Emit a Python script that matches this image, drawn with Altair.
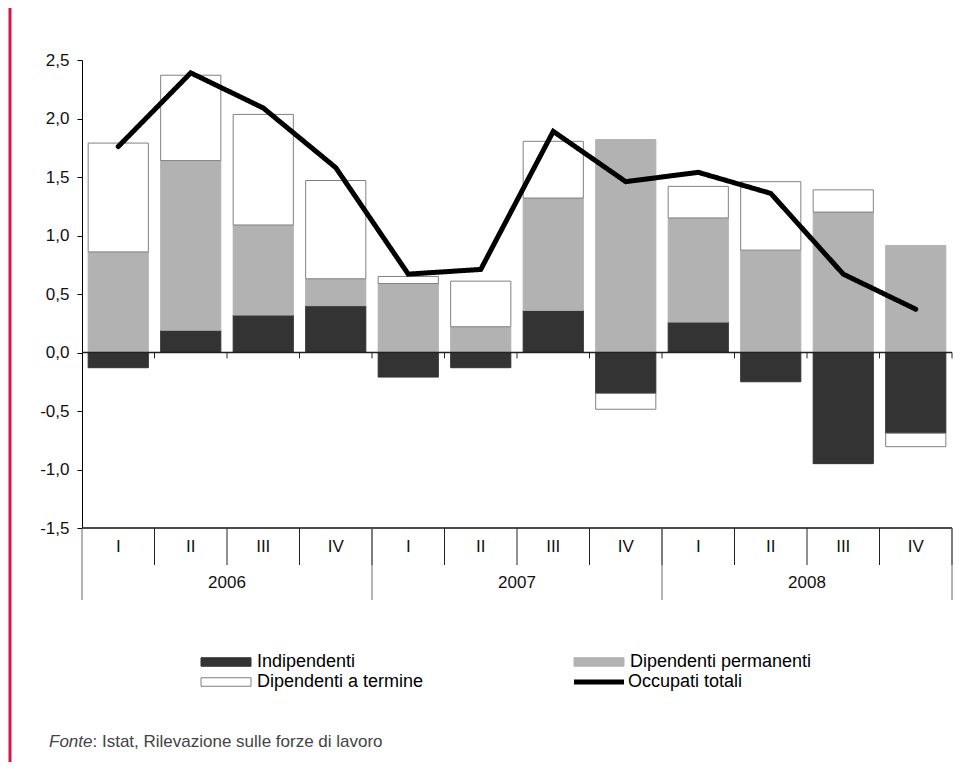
import altair as alt
import pandas as pd

# ---- data ----
anni = ["2006", "2007", "2008"]
trimestri = ["I", "II", "III", "IV"]
serie_nomi = ["Indipendenti", "Dipendenti permanenti", "Dipendenti a termine"]
serie_colori = ["#333333", "#b2b2b2", "#ffffff"]
serie_bordi = ["#333333", "#b2b2b2", "#808080"]
indipendenti = [-0.13, 0.19, 0.32, 0.40, -0.21, -0.13, 0.36, -0.35, 0.26, -0.25, -0.95, -0.69]
permanenti = [0.86, 1.45, 0.77, 0.23, 0.59, 0.22, 0.96, 1.82, 0.89, 0.875, 1.20, 0.915]
a_termine = [0.93, 0.73, 0.945, 0.84, 0.06, 0.39, 0.485, -0.135, 0.27, 0.585, 0.19, -0.115]
totali = [1.76, 2.39, 2.09, 1.58, 0.67, 0.71, 1.89, 1.46, 1.54, 1.36, 0.67, 0.37]
linea_nome = "Occupati totali"
fonte_it = "Fonte"
fonte_txt = ": Istat, Rilevazione sulle forze di lavoro"
y_ticks = [-1.5, -1.0, -0.5, 0.0, 0.5, 1.0, 1.5, 2.0, 2.5]

FONT = "Liberation Sans"

periodi = [f"{a}-{q}" for a in anni for q in trimestri]

# stacked segments (positives up from 0, negatives down from 0)
rows = []
for i, p in enumerate(periodi):
    pos, neg = 0.0, 0.0
    for nome, vals in zip(serie_nomi, [indipendenti, permanenti, a_termine]):
        v = vals[i]
        if v >= 0:
            y0, y1 = pos, pos + v
            pos += v
        else:
            y0, y1 = neg, neg + v
            neg += v
        rows.append({"periodo": p, "serie": nome, "y0": y0, "y1": y1})
df_bar = pd.DataFrame(rows)

df_line = pd.DataFrame({"periodo": periodi, "totale": totali, "serie": [linea_nome] * len(periodi)})
df_per = pd.DataFrame({"periodo": periodi, "trim": [q for a in anni for q in trimestri]})
df_year_start = pd.DataFrame({"periodo": [f"{a}-I" for a in anni]})
df_year_end = pd.DataFrame({"periodo": [periodi[-1]]})
df_year_lab = pd.DataFrame({"periodo": [f"{a}-II" for a in anni], "anno": anni})
df_one = pd.DataFrame({"v": [0.0], "b": [-1.5]})

# legend order (column-major grid): Indipendenti, Dip. a termine | Dip. permanenti
leg_order = [serie_nomi[0], serie_nomi[2], serie_nomi[1]]
leg_fill = [serie_colori[0], serie_colori[2], serie_colori[1]]
leg_stroke = [serie_bordi[0], serie_bordi[2], serie_bordi[1]]

x_scale = alt.Scale(type="band", paddingInner=0, paddingOuter=0)
y_scale = alt.Scale(domain=[-1.5, 2.5], nice=False, zero=False)

def X(**kw):
    return alt.X("periodo:N", sort=periodi, scale=x_scale, axis=None, **kw)

leg_bar = alt.Legend(
    title=None, orient="none", legendX=135, legendY=593, columns=2,
    symbolType="M-5,-0.85L5,-0.85L5,0.85L-5,0.85Z", symbolSize=100,
    symbolStrokeWidth=1, labelFont=FONT, labelFontSize=18, labelColor="black",
    labelOffset=22, columnPadding=148, rowPadding=2, padding=0, labelLimit=400,
)
leg_line = alt.Legend(
    title=None, orient="none", legendX=508, legendY=613, padding=0,
    symbolType="M-5,0L5,0", symbolSize=100, symbolStrokeColor="black",
    symbolStrokeWidth=5, symbolFillColor="transparent", labelFont=FONT,
    labelFontSize=18, labelColor="black", labelOffset=20, labelLimit=400,
)

bars = alt.Chart(df_bar).mark_bar(width={"band": 0.83}, strokeWidth=1).encode(
    x=X(),
    y=alt.Y("y0:Q", scale=y_scale, title=None, axis=alt.Axis(
        values=y_ticks, grid=False, domainColor="black", tickColor="black",
        tickSize=5, labelPadding=8, labelFont=FONT, labelFontSize=17,
        labelColor="#111111",
        labelExpr="replace(replace(format(datum.value, '.1f'), '.', ','), '\u2212', '-')",
    )),
    y2="y1:Q",
    fill=alt.Fill("serie:N", scale=alt.Scale(domain=leg_order, range=leg_fill), legend=leg_bar),
    stroke=alt.Stroke("serie:N", scale=alt.Scale(domain=leg_order, range=leg_stroke), legend=leg_bar),
)

zero_line = alt.Chart(df_one).mark_rule(color="#222222", strokeWidth=1.5).encode(y="v:Q")
bottom_line = alt.Chart(df_one).mark_rule(color="#111111", strokeWidth=1.5).encode(y="b:Q")

zero_ticks = alt.Chart(df_per).mark_rule(color="#222222", strokeWidth=1).encode(
    x=X(bandPosition=1), y=alt.datum(0), y2=alt.datum(-0.05)
)

q_seps = alt.Chart(df_per).mark_rule(color="#222222", strokeWidth=1).encode(
    x=X(bandPosition=1), y=alt.value(468), y2=alt.value(505)
)
y_seps_a = alt.Chart(df_year_start).mark_rule(color="#666666", strokeWidth=1).encode(
    x=X(bandPosition=0), y=alt.value(468), y2=alt.value(540)
)
y_seps_b = alt.Chart(df_year_end).mark_rule(color="#666666", strokeWidth=1).encode(
    x=X(bandPosition=1), y=alt.value(468), y2=alt.value(540)
)
q_labels = alt.Chart(df_per).mark_text(font=FONT, fontSize=17, color="#111111", baseline="middle").encode(
    x=X(), y=alt.value(487), text="trim:N"
)
y_labels = alt.Chart(df_year_lab).mark_text(font=FONT, fontSize=17, color="#111111", baseline="middle").encode(
    x=X(bandPosition=1), y=alt.value(523), text="anno:N"
)

line = alt.Chart(df_line).mark_line(color="black", strokeWidth=5, strokeCap="round", strokeJoin="miter").encode(
    x=X(),
    y=alt.Y("totale:Q", scale=y_scale),
    strokeDash=alt.StrokeDash("serie:N", scale=alt.Scale(domain=[linea_nome], range=[[1, 0]]), legend=leg_line),
)

red_bar = alt.Chart(df_one).mark_rule(color="#d4174b", strokeWidth=3).encode(
    x=alt.value(-72), y=alt.value(-52), y2=alt.value(702)
)
fonte1 = alt.Chart(df_one).mark_text(font=FONT, fontSize=17, fontStyle="italic", color="#444444", align="left", baseline="middle", text=fonte_it).encode(
    x=alt.value(-33), y=alt.value(682)
)
fonte2 = alt.Chart(df_one).mark_text(font=FONT, fontSize=17, color="#444444", align="left", baseline="middle", text=fonte_txt).encode(
    x=alt.value(10.5), y=alt.value(682)
)

chart = alt.layer(
    bars, zero_line, zero_ticks, bottom_line, q_seps, y_seps_a, y_seps_b,
    q_labels, y_labels, line, red_bar, fonte1, fonte2,
).properties(
    width=870, height=468,
    autosize=alt.AutoSizeParams(type="none"),
    padding={"left": 74, "top": 52, "right": 16, "bottom": 239},
    background="white",
).configure_view(stroke=None)

chart.save("out.html", embed_options={"renderer": "svg", "actions": False})
